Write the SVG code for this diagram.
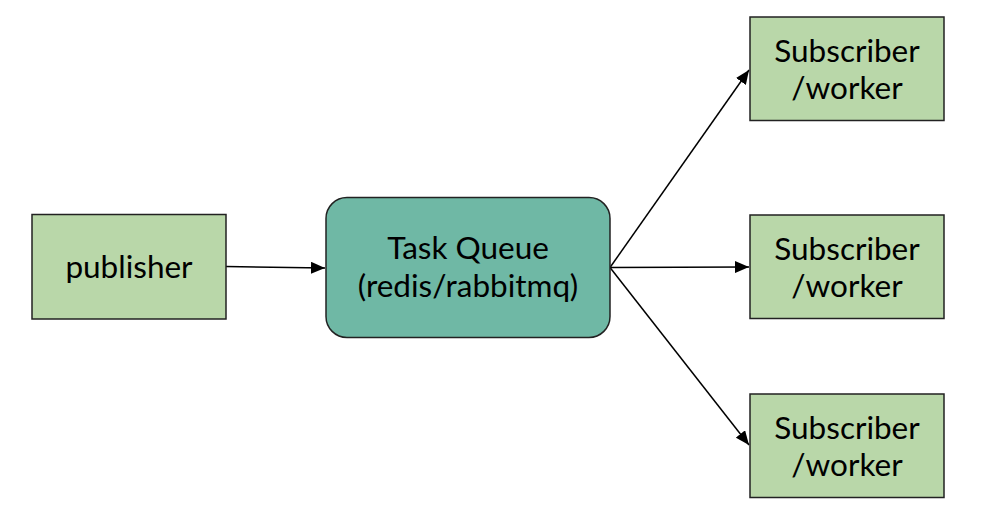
<svg xmlns="http://www.w3.org/2000/svg" width="988" height="524" viewBox="0 0 988 524">
<style>
.box{fill:#b9d7a9;stroke:#222;stroke-width:1.5}
.q{fill:#6fb8a5;stroke:#222;stroke-width:1.5}
.t{font-family:Lato,"Liberation Sans",sans-serif;font-size:31.5px;fill:#000;text-anchor:middle}
.c{stroke:#000;stroke-width:1.5;fill:none;marker-end:url(#ah)}
</style>
<defs>
<marker id="ah" viewBox="0 0 14 12" refX="14" refY="6" markerWidth="14" markerHeight="12" markerUnits="userSpaceOnUse" orient="auto">
<path d="M0,0 L14,6 L0,12 Z" fill="#000"/>
</marker>
</defs>
<rect width="988" height="524" fill="#fff"/>
<g id="connectors">
<line class="c" x1="226" y1="266.5" x2="325" y2="268"/>
<line class="c" x1="610" y1="267.5" x2="749" y2="70"/>
<line class="c" x1="610" y1="267.5" x2="749" y2="267"/>
<line class="c" x1="610" y1="267.5" x2="749" y2="445"/>
</g>
<g id="publisher">
<rect class="box" x="32" y="214.5" width="194" height="104.5"/>
<text class="t" x="129" y="278">publisher</text>
</g>
<g id="queue">
<rect class="q" x="326" y="197.5" width="284" height="140" rx="21"/>
<text class="t" x="468" y="259">Task Queue</text>
<text class="t" x="468" y="297">(redis/rabbitmq)</text>
</g>
<g id="sub1">
<rect class="box" x="750" y="17" width="194" height="103.5"/>
<text class="t" x="847" y="62">Subscriber</text>
<text class="t" x="847" y="99">/worker</text>
</g>
<g id="sub2">
<rect class="box" x="750" y="215" width="194" height="103.5"/>
<text class="t" x="847" y="260">Subscriber</text>
<text class="t" x="847" y="297">/worker</text>
</g>
<g id="sub3">
<rect class="box" x="750" y="394" width="194" height="103.5"/>
<text class="t" x="847" y="439">Subscriber</text>
<text class="t" x="847" y="476">/worker</text>
</g>
</svg>
